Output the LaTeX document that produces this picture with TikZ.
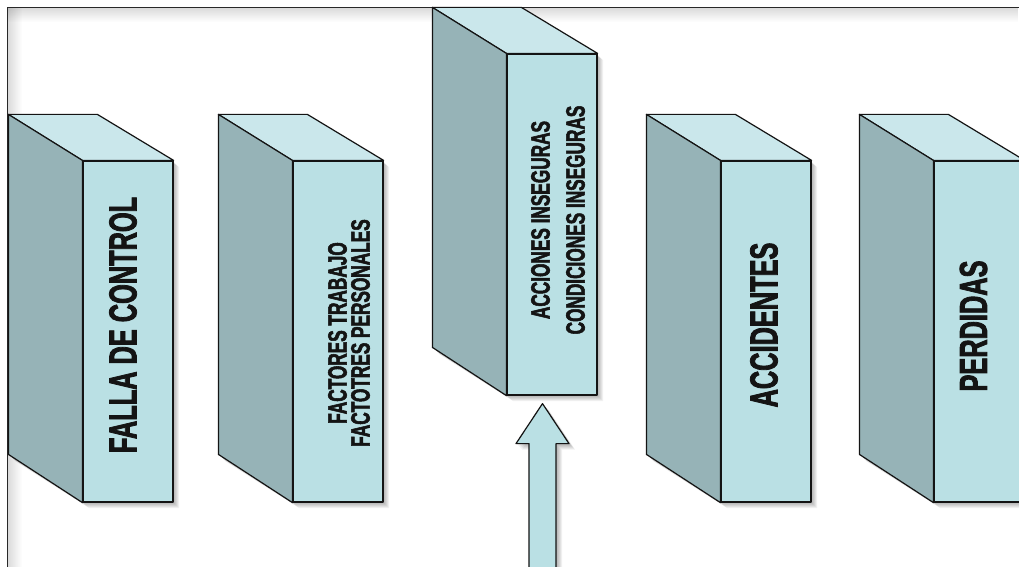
\documentclass[tikz,border=0pt]{standalone}
\usepackage{fontspec}
\newfontfamily\boxfont[FakeStretch=0.65, FakeBold=2]{Liberation Sans Bold}
\usetikzlibrary{fadings}

\definecolor{facefront}{RGB}{186,224,228}
\definecolor{facetop}{RGB}{202,231,235}
\definecolor{faceside}{RGB}{150,179,183}
\definecolor{inkline}{RGB}{20,20,20}
\definecolor{frameink}{RGB}{40,40,40}

\tikzset{
  edge/.style={draw=inkline, line width=1.2pt, line join=round},
  front/.style={edge, fill=facefront, rectangle, inner sep=0pt,
                minimum width=90pt, minimum height=341pt},
  topface/.style={edge, fill=facetop},
  sideface/.style={edge, fill=faceside},
  shade layer/.style={fill=black, opacity=0.055},
  label/.style={text=black!92, inner sep=0pt, rotate=90, align=center},
  biglabel/.style={label, font=\boxfont\fontsize{39}{40}\selectfont},
  arrowbody/.style={edge, fill=facefront},
}

% a prism: front face node #1 with its top-left corner at (#2,#3)
\newcommand\drawprism[3]{%
  \begin{scope}[shift={(#2,#3)}]
    \foreach \k in {1,...,6}{
      \fill[shade layer] (\k,\k) -- ++(-74,-46) -- ++(89,0) -- ++(75,46)
        -- ++(0,341) -- ++(-90,0) -- ++(-74,-47) -- cycle;
    }
    \node[front] (#1) at (45,170.5) {};
    \draw[topface] (#1.north west) -- ++(-74,-46) -- ++(89,0) -- (#1.north east) -- cycle;
    \draw[sideface] (#1.north west) -- ++(-74,-46) -- ++(0,340) -- (#1.south west) -- cycle;
  \end{scope}%
}

\begin{document}
\begin{tikzpicture}[x=1pt, y=-1pt]
  \useasboundingbox (0,0) rectangle (1019,567);
  \clip (0,0) rectangle (1019,567);
  \fill[white] (0,0) rectangle (1019,567);

  % inner shading along the frame
  \fill[black, opacity=0.14, path fading=south] (8,8) rectangle (1019,22);
  \fill[black, opacity=0.14, path fading=east] (8,8) rectangle (22,567);
  \draw[frameink, line width=1.5pt] (7.5,580) -- (7.5,7.5) -- (1030,7.5);

  % the five prisms
  \drawprism{b1}{83}{161}
  \drawprism{b2}{293}{161}
  \drawprism{b3}{507}{54}
  \drawprism{b4}{721}{161}
  \drawprism{b5}{934}{161}

  % upward arrow into the third prism
  \coordinate (tip) at ([shift={(-9.5,8)}]b3.south);
  \foreach \k in {1,...,6}{
    \fill[shade layer] ([shift={(\k,\k)}]tip) -- ++(26.5,40) -- ++(-13,0) -- ++(0,140)
      -- ++(-27,0) -- ++(0,-140) -- ++(-13,0) -- cycle;
  }
  \draw[arrowbody] (tip) -- ++(26.5,40) -- ++(-13,0) -- ++(0,140)
    -- ++(-27,0) -- ++(0,-140) -- ++(-13,0) -- cycle;

  % labels
  \node[biglabel] (l1) at (123,325) {FALLA DE CONTROL};
  \node[label, font=\boxfont\fontsize{26.5}{23}\selectfont] (l2) at (349,333)
    {FACTORES TRABAJO\\FACTOTRES PERSONALES};
  \node[label, font=\boxfont\fontsize{26.5}{35}\selectfont] (l3) at (558,220)
    {ACCIONES INSEGURAS\\CONDICIONES INSEGURAS};
  \node[biglabel] (l4) at (764,325) {ACCIDENTES};
  \node[biglabel] (l5) at (973.5,326) {PERDIDAS};
\end{tikzpicture}
\end{document}
